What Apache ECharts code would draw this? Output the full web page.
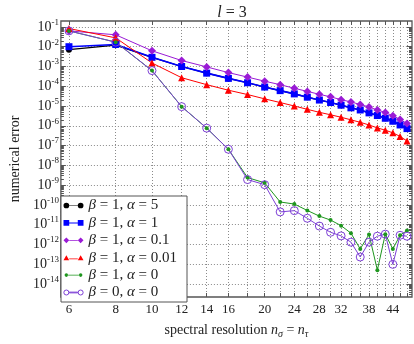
<!DOCTYPE html>
<html>
<head>
<meta charset="utf-8">
<script src="https://cdn.jsdelivr.net/npm/echarts@6/dist/echarts.min.js"></script>
<style>
  html, body { margin: 0; padding: 0; background: #fff; }
  #main { width: 414px; height: 344px; }
</style>
</head>
<body>
<div id="main"></div>
<script>
// spectral resolution n (x) and the labelled ticks
var nRes = [6, 8, 10, 12, 14, 16, 18, 20, 22, 24, 26, 28, 30, 32, 34, 36, 38, 40, 42, 44, 46, 48];
var xLabels = [6, 8, 10, 12, 14, 16, 20, 24, 28, 32, 38, 44];
var yExps = [-14, -13, -12, -11, -10, -9, -8, -7, -6, -5, -4, -3, -2, -1];

// numerical error, one array per curve
var errB1A5 = [7.1e-3, 1.2e-2, 2.9e-3, 1.0e-3, 4.6e-4, 2.5e-4, 1.5e-4, 9.1e-5, 6.0e-5, 4.1e-5, 2.8e-5,
  2.0e-5, 1.5e-5, 1.1e-5, 8.1e-6, 6.3e-6, 4.5e-6, 3.3e-6, 2.4e-6, 1.7e-6, 1.1e-6, 7.2e-7];
var errB1A1 = [1.0e-2, 1.3e-2, 2.9e-3, 1.0e-3, 4.6e-4, 2.5e-4, 1.5e-4, 9.1e-5, 6.0e-5, 4.1e-5, 2.8e-5,
  2.0e-5, 1.5e-5, 1.1e-5, 8.1e-6, 6.3e-6, 4.5e-6, 3.3e-6, 2.4e-6, 1.7e-6, 1.1e-6, 7.2e-7];
var errB1A01 = [6.3e-2, 4.0e-2, 6.2e-3, 2.0e-3, 9.5e-4, 4.9e-4, 2.9e-4, 1.8e-4, 1.2e-4, 7.9e-5, 5.5e-5,
  3.9e-5, 2.9e-5, 2.1e-5, 1.6e-5, 1.2e-5, 8.9e-6, 6.3e-6, 4.7e-6, 3.2e-6, 2.1e-6, 1.3e-6];
var errB1A001 = [8.3e-2, 2.8e-2, 1.5e-3, 2.7e-4, 1.2e-4, 6.3e-5, 3.8e-5, 2.3e-5, 1.5e-5, 1.0e-5, 6.8e-6,
  4.8e-6, 3.6e-6, 2.7e-6, 2.0e-6, 1.5e-6, 1.1e-6, 7.8e-7, 6.0e-7, 4.4e-7, 2.9e-7, 1.7e-7];
var errB1A0 = [6.3e-2, 1.7e-2, 6.2e-4, 9.3e-6, 7.6e-7, 6.5e-8, 2.4e-9, 1.3e-9, 1.4e-10, 1.1e-10, 5.2e-11,
  2.7e-11, 1.7e-11, 8.9e-12, 3.7e-12, 5.9e-13, 3.2e-12, 5.0e-14, 3.3e-12, 5.9e-13, 2.9e-12, 5.0e-12];
var errB0A0 = [6.3e-2, 1.7e-2, 6.2e-4, 9.3e-6, 7.6e-7, 6.5e-8, 1.9e-9, 1.05e-9, 4.4e-11, 5.1e-11, 2.1e-11,
  8.5e-12, 4.1e-12, 2.7e-12, 1.3e-12, 2.3e-13, 1.3e-12, 2.6e-12, 3.3e-12, 9.8e-14, 2.9e-12, 2.6e-12];

var F = "'Liberation Serif', 'DejaVu Serif', serif";
var TXT = '#222';
var FRAME = '#555';

// axes are log scales: x in ln(n), y in log10(err)
function pts(arr) {
  return nRes.map(function (n, i) { return [Math.log(n), Math.log10(arr[i])]; });
}
var xMin = Math.log(5.71), xMax = Math.log(49.5);
var yMin = -14.66, yMax = -0.70;
var xTicks = nRes.map(function (n) { return Math.log(n); });
var xLabelVals = xLabels.map(function (n) { return Math.log(n); });
var yMinor = [];
for (var d = -15; d <= -1; d++) {
  for (var k = 2; k <= 9; k++) {
    var v = d + Math.log10(k);
    if (v > yMin && v < yMax) yMinor.push(v);
  }
}

// legend icons: marker - line - marker
var dots = 'M0,0h0.01v0.01h-0.01z M27.99,7.99h0.01v0.01h-0.01z ';
var icons = {
  circle: 'path://' + dots + 'M0,4a4,4 0 1,0 8,0a4,4 0 1,0 -8,0z M8,3.5h12v1h-12z M20,4a4,4 0 1,0 8,0a4,4 0 1,0 -8,0z',
  square: 'path://' + dots + 'M0,0h8v8h-8z M8,3.3h12v1.4h-12z M20,0h8v8h-8z',
  diamond: 'path://' + dots + 'M4,0l4,4l-4,4l-4,-4z M8,3.5h12v1h-12z M24,0l4,4l-4,4l-4,-4z',
  triangle: 'path://' + dots + 'M4,0.5l4,7h-8z M8,5h12v1h-12z M24,0.5l4,7h-8z',
  small: 'path://' + dots + 'M1.5,4a2.5,2.5 0 1,0 5,0a2.5,2.5 0 1,0 -5,0z M6,3.5h16v1h-16z M21.5,4a2.5,2.5 0 1,0 5,0a2.5,2.5 0 1,0 -5,0z',
  ring: 'path://' + dots + 'M0.5,4a3.5,3.5 0 1,0 7,0a3.5,3.5 0 1,0 -7,0z M8,3.5h12v1h-12z M20.5,4a3.5,3.5 0 1,0 7,0a3.5,3.5 0 1,0 -7,0z'
};

function line(name, data, color, symbol, size, width, extra) {
  var s = {
    name: name,
    type: 'line',
    data: pts(data),
    symbol: symbol,
    symbolSize: size,
    showSymbol: true,
    animation: false,
    itemStyle: { color: color },
    lineStyle: { color: color, width: width }
  };
  if (extra) Object.assign(s.itemStyle, extra);
  return s;
}

var series = [
  line('β = 1, α = 5', errB1A5, '#000000', 'circle', 6, 1.2),
  line('β = 1, α = 1', errB1A1, '#0000ff', 'rect', 7, 1.6),
  line('β = 1, α = 0.1', errB1A01, '#9a1ad6', 'diamond', 8, 1),
  line('β = 1, α = 0.01', errB1A001, '#ff0000', 'triangle', 7, 1),
  line('β = 1, α = 0', errB1A0, '#1e961e', 'circle', 4, 1),
  line('β = 0, α = 0', errB0A0, '#7d3fd6', 'circle', 8, 1,
    { color: 'rgba(255,255,255,0)', borderColor: '#7d3fd6', borderWidth: 1 })
];
series[5].lineStyle.color = '#7d3fd6';

var legendIcons = ['circle', 'square', 'diamond', 'triangle', 'small', 'ring'];

var myChart = echarts.init(document.getElementById('main'));
myChart.setOption({
  animation: false,
  title: {
    text: '{i|l} = 3',
    left: 227,
    top: 0,
    textAlign: 'center',
    textStyle: {
      fontFamily: F, fontSize: 16, fontWeight: 'normal', color: TXT,
      rich: { i: { fontFamily: F, fontSize: 16, fontStyle: 'italic', color: TXT } }
    }
  },
  grid: {
    left: 47, right: 2, top: 21, bottom: 35,
    show: true, borderColor: FRAME, borderWidth: 1.3, backgroundColor: '#fff'
  },
  legend: {
    orient: 'vertical',
    left: 61,
    top: 196,
    itemWidth: 20,
    itemHeight: 6,
    itemGap: 2.4,
    padding: [2, 10, 2, 2],
    backgroundColor: '#fff',
    borderColor: FRAME,
    borderWidth: 1,
    selectedMode: false,
    data: series.map(function (s, i) {
      var d = { name: s.name, icon: icons[legendIcons[i]] };
      if (i === 5) d.itemStyle = { color: 'rgba(255,255,255,0)', borderColor: '#7d3fd6', borderWidth: 1 };
      return d;
    }),
    formatter: function (name) { return name.replace(/([αβ])/g, '{i|$1}'); },
    textStyle: {
      fontFamily: F, fontSize: 15, lineHeight: 14, color: TXT,
      rich: { i: { fontFamily: F, fontSize: 15, lineHeight: 14, fontStyle: 'italic', color: TXT } }
    }
  },
  xAxis: [{
    type: 'value',
    min: xMin, max: xMax,
    name: 'spectral resolution {i|n}{sub|σ} = {i|n}{sub|τ}',
    nameLocation: 'middle',
    nameGap: 25,
    nameTextStyle: {
      fontFamily: F, fontSize: 14, color: TXT,
      rich: {
        i: { fontFamily: F, fontSize: 14, fontStyle: 'italic', color: TXT },
        sub: { fontFamily: F, fontSize: 10, fontStyle: 'italic', color: TXT, padding: [7, 0, 0, 0] }
      }
    },
    axisLine: { show: false },
    axisTick: { show: true, inside: true, length: 4, customValues: xTicks, lineStyle: { color: FRAME } },
    axisLabel: {
      customValues: xLabelVals,
      margin: 6,
      fontFamily: F, fontSize: 13, color: TXT,
      formatter: function (v) { return String(Math.round(Math.exp(v))); }
    },
    splitLine: { show: true, lineStyle: { color: '#8a8a8a', type: [1, 2], width: 1 } }
  }, {
    type: 'value', position: 'top',
    min: xMin, max: xMax,
    axisLine: { show: false },
    axisLabel: { show: false },
    splitLine: { show: false },
    axisTick: { show: true, inside: true, length: 4, customValues: xTicks, lineStyle: { color: FRAME } }
  }],
  yAxis: [{
    type: 'value',
    min: yMin, max: yMax,
    name: 'numerical error',
    nameLocation: 'middle',
    nameGap: 37,
    nameTextStyle: { fontFamily: F, fontSize: 14, color: TXT },
    axisLine: { show: false },
    axisTick: { show: true, inside: true, length: 5, customValues: yExps, lineStyle: { color: FRAME } },
    axisLabel: {
      customValues: yExps,
      margin: 2,
      formatter: function (v) { return '{b|10}{s|' + v + '}'; },
      rich: {
        b: { fontFamily: F, fontSize: 14, color: TXT },
        s: { fontFamily: F, fontSize: 9, color: TXT, padding: [0, 0, 9, 0] }
      }
    },
    splitLine: { show: true, lineStyle: { color: '#8a8a8a', type: [1, 2], width: 1 } }
  }, {
    type: 'value', position: 'left',
    min: yMin, max: yMax,
    axisLine: { show: false }, axisLabel: { show: false }, splitLine: { show: false },
    axisTick: { show: true, inside: true, length: 3, customValues: yMinor, lineStyle: { color: FRAME } }
  }, {
    type: 'value', position: 'right',
    min: yMin, max: yMax,
    axisLine: { show: false }, axisLabel: { show: false }, splitLine: { show: false },
    axisTick: { show: true, inside: true, length: 5, customValues: yExps, lineStyle: { color: FRAME } }
  }, {
    type: 'value', position: 'right',
    min: yMin, max: yMax,
    axisLine: { show: false }, axisLabel: { show: false }, splitLine: { show: false },
    axisTick: { show: true, inside: true, length: 3, customValues: yMinor, lineStyle: { color: FRAME } }
  }],
  series: series
});
window.addEventListener('resize', function () {
  myChart.resize();
});
</script>
</body>
</html>
